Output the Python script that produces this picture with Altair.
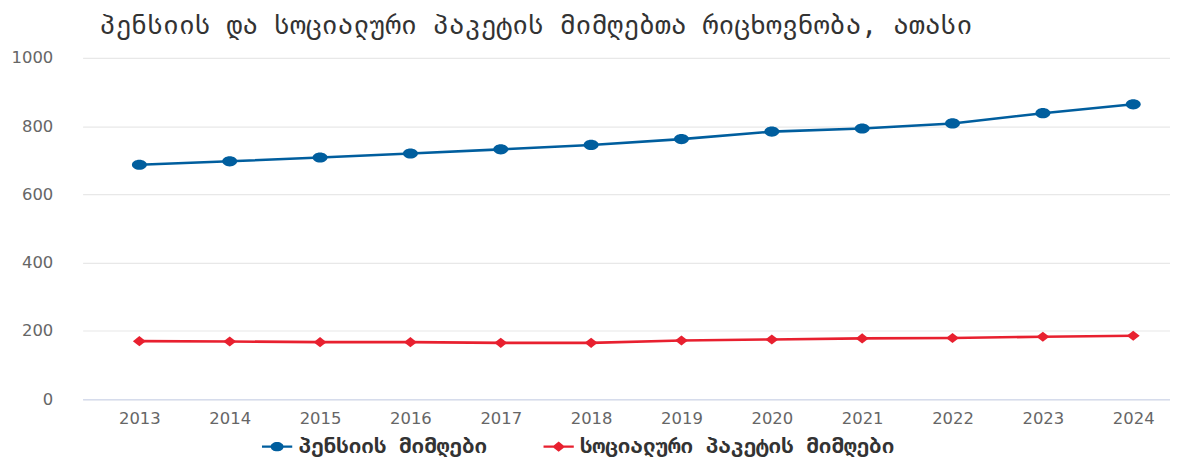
import altair as alt
import pandas as pd

years = [2013, 2014, 2015, 2016, 2017, 2018, 2019, 2020, 2021, 2022, 2023, 2024]
pension = [687, 697, 708, 720, 732, 745, 762, 784, 793, 808, 838, 864]
social = [170, 169, 167, 167, 165, 165, 172, 175, 178, 179, 183, 186]

s_pension = "პენსიის მიმღები"
s_social = "სოციალური პაკეტის მიმღები"
series_names = [s_pension, s_social]
colors = ["#005e9e", "#e8202f"]
title_text = "პენსიის და სოციალური პაკეტის მიმღებთა რიცხოვნობა, ათასი"

rows = []
for y, v in zip(years, pension):
    rows.append({"year": y, "value": v, "series": s_pension})
for y, v in zip(years, social):
    rows.append({"year": y, "value": v, "series": s_social})
df = pd.DataFrame(rows)

FONT = "DejaVu Sans"
GEO = "DejaVu Sans Mono"

ellipse = "M-1,0 A1,0.68 0 1,1 1,0 A1,0.68 0 1,1 -1,0 Z"
diamond = "M0,-0.78 L1,0 L0,0.78 L-1,0 Z"
leg_circle = ("M-1.45,-0.11 H1.45 V0.11 H-1.45 Z "
              "M-0.62,0 A0.62,0.45 0 1,1 0.62,0 A0.62,0.45 0 1,1 -0.62,0 Z")
leg_diamond = ("M-1.45,-0.11 H1.45 V0.11 H-1.45 Z "
               "M0,-0.5 L0.62,0 L0,0.5 L-0.62,0 Z")

x_enc = alt.X("year:Q",
              scale=alt.Scale(domain=[2012.372, 2024.407], nice=False, zero=False),
              axis=alt.Axis(values=years, format="d", title=None, grid=False,
                            ticks=False, labelFontSize=16.5, labelColor="#666666",
                            labelFont=FONT, labelPadding=11,
                            domainColor="#d6dcec", domainWidth=1.5))
y_enc = alt.Y("value:Q",
              scale=alt.Scale(domain=[0, 1000], nice=False),
              axis=alt.Axis(values=[0, 200, 400, 600, 800, 1000], format="d", title=None,
                            domain=False, ticks=False, labelFontSize=16.5,
                            labelColor="#666666", labelFont=FONT, labelPadding=30,
                            gridColor="#e8e8e8", gridWidth=1.2))

legend_props = dict(title=None, orient="none", direction="horizontal",
                    legendX=184, legendY=379,
                    labelFont=GEO, labelFontSize=21,
                    labelFontWeight="bold", labelColor="#333333", labelLimit=500,
                    symbolSize=440, labelOffset=10, columnPadding=56)

base = alt.Chart(df)

lines = base.mark_line(strokeWidth=2.6).encode(
    x=x_enc, y=y_enc,
    color=alt.Color("series:N", scale=alt.Scale(domain=series_names, range=colors),
                    legend=None),
)

points = base.mark_point(filled=True, opacity=1).encode(
    x="year:Q", y="value:Q",
    color=alt.Color("series:N", scale=alt.Scale(domain=series_names, range=colors),
                    legend=None),
    shape=alt.Shape("series:N", scale=alt.Scale(domain=series_names, range=[ellipse, diamond]),
                    legend=None),
    size=alt.Size("series:N", scale=alt.Scale(domain=series_names, range=[225, 169]),
                  legend=None),
)

legend_layer = base.transform_filter("false").mark_point(filled=True, opacity=1).encode(
    x="year:Q", y="value:Q",
    color=alt.Color("series:N", scale=alt.Scale(domain=series_names, range=colors),
                    legend=alt.Legend(**legend_props)),
    shape=alt.Shape("series:N", scale=alt.Scale(domain=series_names,
                                                range=[leg_circle, leg_diamond]),
                    legend=alt.Legend(**legend_props)),
)

chart = alt.layer(lines, points, legend_layer).resolve_scale(
    shape="independent", size="independent", color="independent"
).properties(
    width=1093,
    height=343,
    title=alt.TitleParams(title_text, anchor="start", frame="group", dx=17, offset=11,
                          fontSize=26.5, font=GEO, fontWeight="normal",
                          color="#333333"),
    autosize=alt.AutoSizeParams(type="none"),
    padding={"left": 75, "top": 49, "right": 0, "bottom": 60},
).configure_view(stroke=None)

chart.save("out.html", embed_options={"renderer": "svg", "actions": False})
